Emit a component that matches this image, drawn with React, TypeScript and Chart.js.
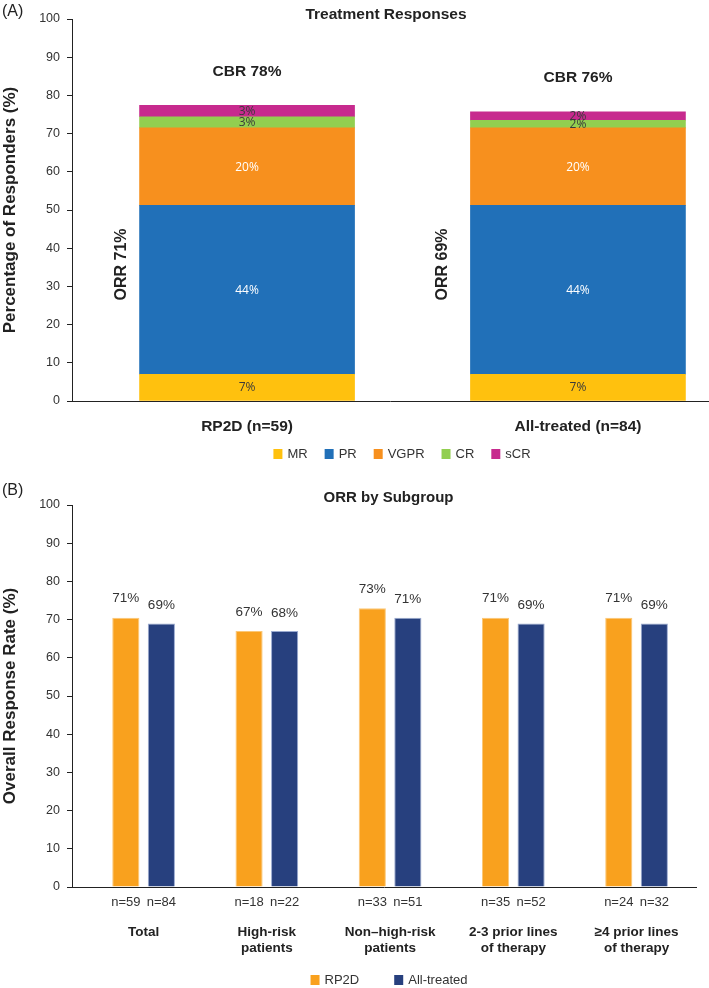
import React, { useEffect, useRef } from "react";
import { Chart, registerables } from "chart.js";

Chart.register(...registerables);

// ---------- Data: panel A (stacked treatment responses) ----------
const groupsA = ["RP2D (n=59)", "All-treated (n=84)"];
const responseNames = ["MR", "PR", "VGPR", "CR", "sCR"];
const mrValues = [7, 7];
const prValues = [44.2, 44.2];
const vgprValues = [20.3, 20.3];
const crValues = [2.9, 2.0];
const scrValues = [3.0, 2.2];
const mrLabels = ["7%", "7%"];
const prLabels = ["44%", "44%"];
const vgprLabels = ["20%", "20%"];
const crLabels = ["3%", "2%"];
const scrLabels = ["3%", "2%"];
const orrLabels = ["ORR 71%", "ORR 69%"];
const cbrLabels = ["CBR 78%", "CBR 76%"];

// ---------- Data: panel B (ORR by subgroup) ----------
const subgroups = [
  ["Total"],
  ["High-risk", "patients"],
  ["Non\u2013high-risk", "patients"],
  ["2-3 prior lines", "of therapy"],
  ["\u22654 prior lines", "of therapy"],
];
const seriesNamesB = ["RP2D", "All-treated"];
const rp2dOrr = [70.5, 67, 73, 70.5, 70.5];
const allTreatedOrr = [69, 67, 70.5, 69, 69];
const rp2dOrrLabels = ["71%", "67%", "73%", "71%", "71%"];
const allTreatedOrrLabels = ["69%", "68%", "71%", "69%", "69%"];
const rp2dN = ["n=59", "n=18", "n=33", "n=35", "n=24"];
const allTreatedN = ["n=84", "n=22", "n=51", "n=52", "n=32"];

const FONT = "'Liberation Sans', Arial, Helvetica, sans-serif";
const LABEL_FONT = "'Open Sans', 'Liberation Sans', sans-serif";

function drawLegend(ctx: CanvasRenderingContext2D, items: { label: string; color: string }[], centerX: number, y: number, gap: number) {
  ctx.save();
  ctx.font = `13px ${FONT}`;
  const box = 9, boxH = 10, textGap = 5;
  const widths = items.map((it) => box + textGap + ctx.measureText(it.label).width);
  const total = widths.reduce((a, b) => a + b, 0) + gap * (items.length - 1);
  let x = centerX - total / 2;
  items.forEach((it, i) => {
    ctx.fillStyle = it.color;
    ctx.fillRect(x, y - boxH / 2, box, boxH);
    ctx.fillStyle = "#333";
    ctx.textAlign = "left";
    ctx.textBaseline = "middle";
    ctx.fillText(it.label, x + box + textGap, y + 0.5);
    x += widths[i] + gap;
  });
  ctx.restore();
}

function ChartA() {
  const ref = useRef<HTMLCanvasElement>(null);
  useEffect(() => {
    const series = [mrValues, prValues, vgprValues, crValues, scrValues];
    const segLabels = [mrLabels, prLabels, vgprLabels, crLabels, scrLabels];
    const colors = ["#FFC10E", "#2170B8", "#F7901E", "#92CF50", "#C72A8E"];
    const textColors = ["#3a3a3a", "#ffffff", "#ffffff", "#3a3a3a", "#3a3a3a"];
    const orrOffsets = [18, 28];

    const annotations = {
      id: "annotA",
      afterDatasetsDraw(chart: any) {
        const ctx = chart.ctx as CanvasRenderingContext2D;
        const yScale = chart.scales.y;
        ctx.save();
        chart.data.datasets.forEach((_: any, k: number) => {
          const meta = chart.getDatasetMeta(k);
          meta.data.forEach((el: any, i: number) => {
            const p = el.getProps(["x", "y", "base"], true);
            ctx.font = `12px ${LABEL_FONT}`;
            ctx.fillStyle = textColors[k];
            ctx.textAlign = "center";
            ctx.textBaseline = "middle";
            ctx.fillText(segLabels[k][i], p.x, (p.y + p.base) / 2 + 0.5);
          });
        });
        const vgMeta = chart.getDatasetMeta(2);
        const topMeta = chart.getDatasetMeta(4);
        groupsA.forEach((_, i) => {
          const vg = vgMeta.data[i].getProps(["x", "y", "width"], true);
          const top = topMeta.data[i].getProps(["x", "y"], true);
          const zero = yScale.getPixelForValue(0);
          ctx.save();
          ctx.font = `bold 16px ${FONT}`;
          ctx.fillStyle = "#222";
          ctx.textAlign = "center";
          ctx.textBaseline = "middle";
          ctx.translate(vg.x - vg.width / 2 - orrOffsets[i], (zero + vg.y) / 2);
          ctx.rotate(-Math.PI / 2);
          ctx.fillText(orrLabels[i], 0, 0);
          ctx.restore();
          ctx.font = `bold 15.5px ${FONT}`;
          ctx.fillStyle = "#222";
          ctx.textAlign = "center";
          ctx.textBaseline = "middle";
          ctx.fillText(cbrLabels[i], top.x, top.y - 34);
        });
        ctx.restore();
      },
      afterDraw(chart: any) {
        const ctx = chart.ctx as CanvasRenderingContext2D;
        ctx.save();
        ctx.fillStyle = "#222";
        ctx.font = `bold 15.5px ${FONT}`;
        ctx.textAlign = "center";
        ctx.textBaseline = "middle";
        ctx.fillText("Treatment Responses", 386, 15);
        ctx.font = `16px ${FONT}`;
        ctx.textAlign = "left";
        ctx.fillText("(A)", 2, 12);
        ctx.restore();
        drawLegend(
          ctx,
          chart.data.datasets.map((d: any) => ({ label: d.label, color: d.backgroundColor })),
          402,
          454,
          17
        );
      },
    };

    const chart = new Chart(ref.current as HTMLCanvasElement, {
      type: "bar",
      data: {
        datasets: series.map((s, k) => ({
          label: responseNames[k],
          data: s.map((v, i) => ({ x: i, y: v })),
          backgroundColor: colors[k],
          borderWidth: 0,
          barThickness: 215,
        })),
      },
      options: {
        responsive: false,
        animation: false,
        devicePixelRatio: 1,
        layout: { padding: { top: 19, right: 1, left: 0, bottom: 0 } },
        plugins: { legend: { display: false }, title: { display: false }, tooltip: { enabled: false } },
        scales: {
          x: {
            type: "linear",
            min: -0.529,
            max: 1.393,
            stacked: true,
            offset: false,
            afterBuildTicks: (s: any) => {
              s.ticks = groupsA.map((_, i) => ({ value: i }));
            },
            afterFit: (s: any) => {
              s.height = 74;
            },
            grid: { display: false, offset: false },
            border: { display: true, color: "#222", width: 1 },
            ticks: {
              autoSkip: false,
              maxRotation: 0,
              padding: 8.5,
              color: "#222",
              font: { family: FONT, size: 15.5, weight: "bold" },
              callback: (v: any) => groupsA[v as number] ?? "",
            },
          },
          y: {
            min: 0,
            max: 100,
            stacked: true,
            afterFit: (s: any) => {
              s.width = 72;
            },
            ticks: { stepSize: 10, padding: 7, color: "#333", font: { family: FONT, size: 12.5 } },
            grid: { drawOnChartArea: false, drawTicks: true, tickLength: 5, color: "#222" },
            border: { color: "#222", width: 1 },
            title: {
              display: true,
              text: "Percentage of Responders (%)",
              color: "#222",
              padding: 0,
              font: { family: FONT, size: 17, weight: "bold" },
            },
          },
        },
      } as any,
      plugins: [annotations],
    });
    return () => chart.destroy();
  }, []);
  return (
    <canvas
      ref={ref}
      width={709}
      height={475}
      style={{ position: "absolute", left: 0, top: 0, width: 709, height: 475 }}
    />
  );
}

function ChartB() {
  const ref = useRef<HTMLCanvasElement>(null);
  useEffect(() => {
    const values = [rp2dOrr, allTreatedOrr];
    const valueLabels = [rp2dOrrLabels, allTreatedOrrLabels];
    const nLabels = [rp2dN, allTreatedN];
    const colors = ["#F9A11E", "#27407E"];
    const edgeColors = ["#FBC877", "#9AAAD0"];
    const labelOffsets = [19, 18];

    const annotations = {
      id: "annotB",
      afterDatasetsDraw(chart: any) {
        const ctx = chart.ctx as CanvasRenderingContext2D;
        const bottom = chart.chartArea.bottom;
        ctx.save();
        chart.data.datasets.forEach((_: any, k: number) => {
          const meta = chart.getDatasetMeta(k);
          meta.data.forEach((el: any, i: number) => {
            const p = el.getProps(["x", "y"], true);
            ctx.font = `13.5px ${FONT}`;
            ctx.fillStyle = "#333";
            ctx.textAlign = "center";
            ctx.textBaseline = "middle";
            ctx.fillText(valueLabels[k][i], p.x, p.y - labelOffsets[k]);
            ctx.font = `13px ${FONT}`;
            ctx.fillText(nLabels[k][i], p.x, bottom + 15.5);
          });
        });
        ctx.restore();
      },
      afterDraw(chart: any) {
        const ctx = chart.ctx as CanvasRenderingContext2D;
        ctx.save();
        ctx.fillStyle = "#222";
        ctx.font = `bold 15px ${FONT}`;
        ctx.textAlign = "center";
        ctx.textBaseline = "middle";
        ctx.fillText("ORR by Subgroup", 388.5, 23);
        ctx.font = `16px ${FONT}`;
        ctx.textAlign = "left";
        ctx.fillText("(B)", 2, 15.5);
        ctx.restore();
        drawLegend(
          ctx,
          chart.data.datasets.map((d: any) => ({ label: d.label, color: d.backgroundColor })),
          389,
          505,
          35
        );
      },
    };

    const chart = new Chart(ref.current as HTMLCanvasElement, {
      type: "bar",
      data: {
        datasets: values.map((s, k) => ({
          label: seriesNamesB[k],
          data: s.map((v, i) => ({ x: i, y: v })),
          backgroundColor: colors[k],
          borderColor: edgeColors[k],
          borderWidth: { top: 1, left: 1, right: 1, bottom: 0 },
          categoryPercentage: 0.577,
          barPercentage: 0.764,
        })),
      },
      options: {
        responsive: false,
        animation: false,
        devicePixelRatio: 1,
        layout: { padding: { top: 30, right: 5, left: 0, bottom: 0 } },
        plugins: { legend: { display: false }, title: { display: false }, tooltip: { enabled: false } },
        scales: {
          x: {
            type: "linear",
            min: -0.581,
            max: 4.485,
            offset: false,
            afterBuildTicks: (s: any) => {
              s.ticks = subgroups.map((_, i) => ({ value: i }));
            },
            afterFit: (s: any) => {
              s.height = 101;
            },
            grid: { display: false, offset: false },
            border: { display: true, color: "#222", width: 1 },
            ticks: {
              autoSkip: false,
              maxRotation: 0,
              padding: 30,
              color: "#222",
              font: { family: FONT, size: 13.5, weight: "bold", lineHeight: 1.15 },
              callback: (v: any) => subgroups[v as number] ?? "",
            },
          },
          y: {
            min: 0,
            max: 100,
            afterFit: (s: any) => {
              s.width = 72;
            },
            ticks: { stepSize: 10, padding: 7, color: "#333", font: { family: FONT, size: 12.5 } },
            grid: { drawOnChartArea: false, drawTicks: true, tickLength: 5, color: "#222" },
            border: { color: "#222", width: 1 },
            title: {
              display: true,
              text: "Overall Response Rate (%)",
              color: "#222",
              padding: 0,
              font: { family: FONT, size: 17, weight: "bold" },
            },
          },
        },
      } as any,
      plugins: [annotations],
    });
    return () => chart.destroy();
  }, []);
  return (
    <canvas
      ref={ref}
      width={709}
      height={513}
      style={{ position: "absolute", left: 0, top: 475, width: 709, height: 513 }}
    />
  );
}

export default function App() {
  return (
    <div
      style={{
        position: "absolute",
        left: 0,
        top: 0,
        width: 709,
        height: 988,
        background: "#ffffff",
        overflow: "hidden",
      }}
    >
      <ChartA />
      <ChartB />
    </div>
  );
}
